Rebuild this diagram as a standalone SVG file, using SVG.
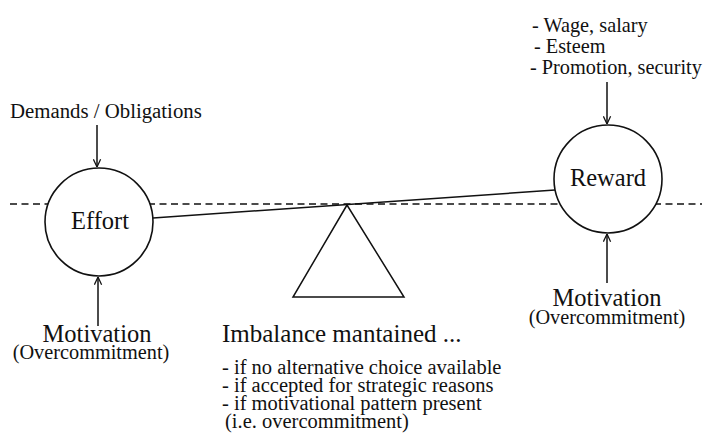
<svg xmlns="http://www.w3.org/2000/svg" width="708" height="443" viewBox="0 0 708 443">
<style>
.ln{stroke:#111;stroke-width:1.5;fill:none}
.node{fill:#fff;stroke:#111;stroke-width:1.6}
</style>
<defs>
<marker id="ah" viewBox="0 0 10 10" refX="9.5" refY="5" markerWidth="9" markerHeight="9" markerUnits="userSpaceOnUse" orient="auto">
<path d="M1,1 L9.5,5 L1,9" fill="none" stroke="#111" stroke-width="1.4"/>
</marker>
</defs>
<g id="connectors">
<line class="ln" x1="10" y1="204" x2="702" y2="204" stroke-dasharray="7,4.5"/>
<line class="ln" x1="153" y1="218" x2="555" y2="190"/>
<line class="ln" x1="97" y1="125" x2="97" y2="167" marker-end="url(#ah)"/>
<line class="ln" x1="98" y1="326" x2="98" y2="277" marker-end="url(#ah)"/>
<line class="ln" x1="607" y1="82" x2="607" y2="124" marker-end="url(#ah)"/>
<line class="ln" x1="607" y1="283" x2="607" y2="234" marker-end="url(#ah)"/>
</g>
<g id="fulcrum">
<polygon class="ln" points="347,205 293,297 404,297"/>
</g>
<g font-family="'Liberation Serif', 'DejaVu Serif', serif" fill="#111">
<g id="effort">
<circle class="node" cx="99" cy="222" r="54"/>
<text font-size="24.5" x="100" y="229" text-anchor="middle">Effort</text>
</g>
<g id="reward">
<circle class="node" cx="608" cy="179" r="54"/>
<text font-size="24.5" x="608" y="186" text-anchor="middle">Reward</text>
</g>
<g id="demands">
<text font-size="20.8" x="10" y="118">Demands / Obligations</text>
</g>
<g id="reward-sources" font-size="20.3">
<text x="532" y="32">- Wage, salary</text>
<text x="534" y="53">- Esteem</text>
<text x="530" y="74">- Promotion, security</text>
</g>
<g id="motivation-left">
<text font-size="24.5" x="97" y="342" text-anchor="middle">Motivation</text>
<text font-size="20.3" x="91" y="359" text-anchor="middle">(Overcommitment)</text>
</g>
<g id="motivation-right">
<text font-size="24.5" x="607" y="306" text-anchor="middle">Motivation</text>
<text font-size="20.3" x="607" y="324" text-anchor="middle">(Overcommitment)</text>
</g>
<g id="imbalance">
<text x="222" y="342" font-size="25">Imbalance mantained ...</text>
<g font-size="20.5">
<text x="222" y="374">- if no alternative choice available</text>
<text x="222" y="392">- if accepted for strategic reasons</text>
<text x="222" y="410">- if motivational pattern present</text>
<text x="225" y="428">(i.e. overcommitment)</text>
</g>
</g>
</g>
</svg>
